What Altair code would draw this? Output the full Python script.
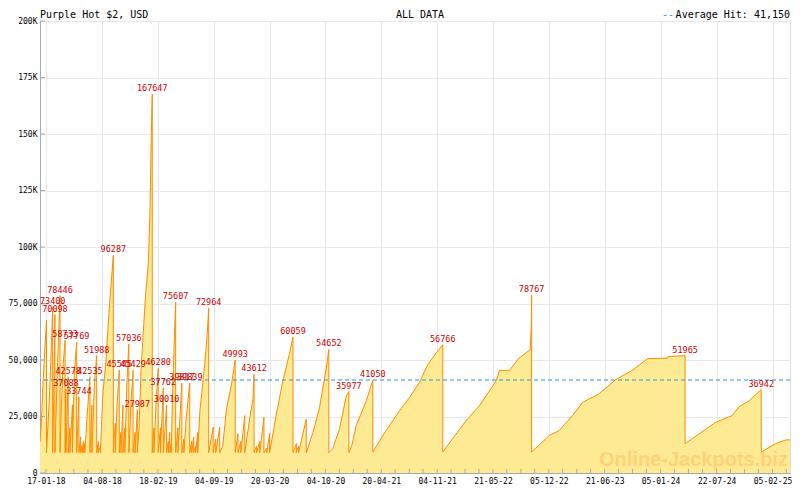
import altair as alt
import pandas as pd

# ---------------- data ----------------
START = "2018-01-28"          # day 0 of the series below
day = [
    -32, -27, -21, -9, -9, 0, 5, 13, 13, 18, 21, 21, 28, 39, 39, 44, 50, 57, 57, 60, 60,
    64, 68, 68, 74, 74, 83, 83, 90, 98, 98, 106, 106, 112, 112, 117, 117, 122, 122,
    127, 127, 135, 145, 145, 152, 152, 161, 169, 169, 175, 175, 182, 182,
    191, 202, 212, 221, 228, 228, 235, 235, 241, 249, 249, 255, 255, 262, 262,
    269, 269, 276, 283, 283, 290, 298, 298, 305, 305, 313, 313,
    319, 326, 333, 342, 352, 358, 362, 366, 366, 372, 372, 379, 387, 387,
    395, 395, 405, 405, 417, 417, 423, 423, 428, 428, 433, 433, 439, 449, 449,
    457, 457, 471, 471, 478, 478, 487, 499, 499, 506, 506, 513, 513, 520, 520,
    527, 527, 535, 552, 561, 566, 566, 582, 582, 591, 591, 605, 605,
    616, 629, 647, 660, 660, 670, 670, 680, 680, 694, 694, 701, 712, 723, 727, 727,
    736, 736, 747, 747, 762, 762, 772, 772, 782, 782, 806, 829, 853, 865, 865,
    877, 877, 885, 885, 912, 912, 936, 959, 983, 992, 992,
    1006, 1030, 1054, 1063, 1063, 1073, 1089, 1125, 1148, 1148,
    1195, 1243, 1278, 1313, 1343, 1372, 1396, 1396,
    1431, 1479, 1526, 1585, 1597, 1632, 1667, 1706, 1710, 1711, 1711,
    1774, 1809, 1856, 1891, 1951, 2010, 2068, 2122, 2192, 2195, 2255, 2255,
    2281, 2364, 2422, 2446, 2482, 2525, 2525, 2576, 2611, 2627,
]
jackpot = [
    13700, 22400, 40700, 67700, 9000, 30000, 45000, 73400, 9000, 45000, 70098, 9000, 40000, 78446, 9000, 30000, 48000, 58733, 9000, 37088, 9000,
    25000, 42578, 9000, 20000, 9000, 30000, 9000, 45000, 57769, 9000, 33744, 9000, 16000, 9000, 12000, 9000, 14000, 9000,
    13000, 9000, 25000, 42535, 9000, 30000, 9000, 40000, 51988, 9000, 14000, 9000, 12000, 9000,
    35000, 50000, 70000, 85000, 96287, 9000, 22000, 9000, 30000, 45545, 9000, 18000, 9000, 30000, 9000,
    20000, 9000, 40000, 57036, 9000, 30000, 45429, 9000, 18000, 9000, 27987, 9000,
    20000, 45000, 60000, 78000, 92500, 115800, 146500, 167647, 9000, 20000, 9000, 30000, 46280, 9000,
    20000, 9000, 37762, 9000, 30010, 9000, 14000, 9000, 18000, 9000, 13000, 9000, 40000, 75607, 9000,
    20000, 9000, 39817, 9000, 15000, 9000, 25000, 39839, 9000, 14000, 9000, 16000, 9000, 12000, 9000,
    18000, 9000, 27600, 48000, 62000, 72964, 9000, 20300, 9000, 15000, 9000, 20300, 9000,
    12000, 28300, 39300, 49993, 9000, 17400, 9000, 14000, 9000, 25400, 9000, 15000, 24600, 32700, 43612, 9000,
    12000, 9000, 14000, 9000, 24600, 9000, 11000, 9000, 17500, 9000, 26100, 40700, 53000, 60059, 9000,
    13000, 9000, 12000, 9000, 23900, 9000, 18000, 29000, 46500, 54652, 9000,
    10800, 19600, 34100, 35977, 9000, 12000, 21000, 32000, 41050, 9300,
    18800, 27600, 33400, 40000, 48000, 53000, 56766, 9300,
    15200, 23200, 29800, 40700, 45400, 45400, 50900, 54600, 66000, 78767, 9300,
    16600, 18800, 25400, 31200, 35100, 41400, 45400, 50600, 50800, 51500, 51965, 13000,
    15200, 22500, 25400, 29300, 31900, 36942, 9300, 13000, 14600, 14700,
]

label_day = [13, 21, 39, 57, 60, 68, 98, 106, 145, 169, 228, 249, 283, 298, 313, 366,
             387, 405, 417, 449, 471, 499, 566, 660, 727, 865, 992, 1063, 1148, 1396,
             1711, 2255, 2525]
label_value = [73400, 70098, 78446, 58733, 37088, 42578, 57769, 33744, 42535, 51988,
               96287, 45545, 57036, 45429, 27987, 167647, 46280, 37762, 30010, 75607,
               39817, 39839, 72964, 49993, 43612, 60059, 54652, 35977, 41050, 56766,
               78767, 51965, 36942]

major_ticks = ["2018-01-17", "2018-08-04", "2019-02-18", "2019-09-04", "2020-03-20",
               "2020-10-04", "2021-04-20", "2021-11-04", "2022-05-21", "2022-12-05",
               "2023-06-21", "2024-01-05", "2024-07-22", "2025-02-05"]
y_ticks = [0, 25000, 50000, 75000, 100000, 125000, 150000, 175000, 200000]
AVERAGE = 41150
X_DOMAIN = ["2017-12-27", "2025-04-08"]

# ---------------- styling ----------------
W, H = 750, 452
MONO = "DejaVu Sans Mono"
FILL = "#ffea94"
LINE = "#ff8c00"
GRID = "#e8e8e8"
FRAME = "#aaaaaa"
BLUE = "#1a9be0"

base = pd.Timestamp(START)
df = pd.DataFrame({
    "date": base + pd.to_timedelta(day, unit="D"),
    "jackpot": jackpot,
    "i": list(range(len(day))),
})
lab_df = pd.DataFrame({
    "date": base + pd.to_timedelta(label_day, unit="D"),
    "value": label_value,
})


def dt(s):
    t = pd.Timestamp(s)
    return alt.DateTime(year=t.year, month=t.month, date=t.day)


# minor tick dates: quarters between the labelled dates (axis decoration)
majors = [pd.Timestamp(s) for s in major_ticks]
minor = []
for a, b in zip(majors[:-1], majors[1:]):
    for k in range(4):
        minor.append(a + (b - a) * k / 4)
minor.append(majors[-1])
step = (majors[-1] - majors[-2]) / 4
minor.append(majors[-1] + step)
minor = [m.normalize() for m in minor]
tick_df = pd.DataFrame({"date": minor})
ytick_df = pd.DataFrame({"v": y_ticks})

xs = alt.Scale(domain=[dt(X_DOMAIN[0]), dt(X_DOMAIN[1])])
ys = alt.Scale(domain=[0, 200000], nice=False, zero=True)

x_axis = alt.Axis(values=[dt(s) for s in major_ticks], format="%d-%m-%y", ticks=False,
                  grid=True, gridColor=GRID, domainColor=FRAME, labelFont=MONO,
                  labelFontSize=8, labelColor="#000", labelPadding=4, labelOverlap=False,
                  labelFlush=False, title=None)
y_axis = alt.Axis(values=y_ticks, ticks=False, grid=True, gridColor=GRID, domainColor=FRAME,
                  labelFont=MONO, labelFontSize=8, labelColor="#000", labelPadding=3,
                  title=None,
                  labelExpr="datum.value >= 100000 ? format(datum.value / 1000, 'd') + 'K' : format(datum.value, ',')")

X = alt.X("date:T", scale=xs, title=None)
Y = alt.Y("jackpot:Q", scale=ys, title=None, stack=None)

area = alt.Chart(df).mark_area(color=FILL, fillOpacity=1, opacity=1).encode(
    x=alt.X("date:T", scale=xs, axis=x_axis),
    y=alt.Y("jackpot:Q", scale=ys, axis=y_axis, stack=None),
    y2=alt.datum(0),
)

one = pd.DataFrame({"k": [0]})
watermark = alt.Chart(one).mark_text(
    text="Online-Jackpots.biz", font="Liberation Sans", fontWeight="bold", fontSize=20,
    color="#ffd27a", align="right", baseline="alphabetic",
).encode(x=alt.value(W - 2), y=alt.value(H - 7))

line = alt.Chart(df).mark_line(color=LINE, strokeWidth=1, clip=True).encode(
    x=X, y=Y, order="i:Q",
)

avg = alt.Chart(pd.DataFrame({"avg": [AVERAGE]})).mark_rule(
    color=BLUE, strokeDash=[4, 3], strokeWidth=1.2,
).encode(y=alt.Y("avg:Q", scale=ys, title=None))

labels = alt.Chart(lab_df).mark_text(
    font=MONO, fontSize=8.5, color="#cc0000", baseline="alphabetic", dy=-3,
).encode(
    x=alt.X("date:T", scale=xs, title=None),
    y=alt.Y("value:Q", scale=ys, title=None),
    text=alt.Text("value:Q", format="d"),
)

xticks = alt.Chart(tick_df).mark_rule(color=FRAME).encode(
    x=alt.X("date:T", scale=xs, title=None), y=alt.value(H - 4), y2=alt.value(H),
)
yticks = alt.Chart(ytick_df).mark_rule(color=FRAME).encode(
    y=alt.Y("v:Q", scale=ys, title=None), x=alt.value(0), x2=alt.value(5),
)

TY = -3
title_left = alt.Chart(one).mark_text(
    text="Purple Hot $2, USD", font=MONO, fontSize=10, color="#000",
    align="left", baseline="alphabetic",
).encode(x=alt.value(0), y=alt.value(TY))
title_mid = alt.Chart(one).mark_text(
    text="ALL DATA", font=MONO, fontSize=10, color="#000",
    align="center", baseline="alphabetic",
).encode(x=alt.value(380), y=alt.value(TY))
title_dash = alt.Chart(one).mark_text(
    text="--", font=MONO, fontSize=10, color=BLUE,
    align="right", baseline="alphabetic",
).encode(x=alt.value(W - 116), y=alt.value(TY))
title_right = alt.Chart(one).mark_text(
    text="Average Hit: 41,150", font=MONO, fontSize=10, color="#000",
    align="right", baseline="alphabetic",
).encode(x=alt.value(W), y=alt.value(TY))

chart = alt.layer(
    area, watermark, line, avg, xticks, yticks, labels,
    title_left, title_mid, title_dash, title_right,
).properties(
    width=W, height=H,
    autosize=alt.AutoSizeParams(type="none"),
    padding={"left": 32, "top": 13, "right": 2, "bottom": 17},
).configure_view(
    stroke=FRAME, strokeWidth=1,
).configure(background="white")

chart.save("out.html", embed_options={"renderer": "svg", "actions": False})
